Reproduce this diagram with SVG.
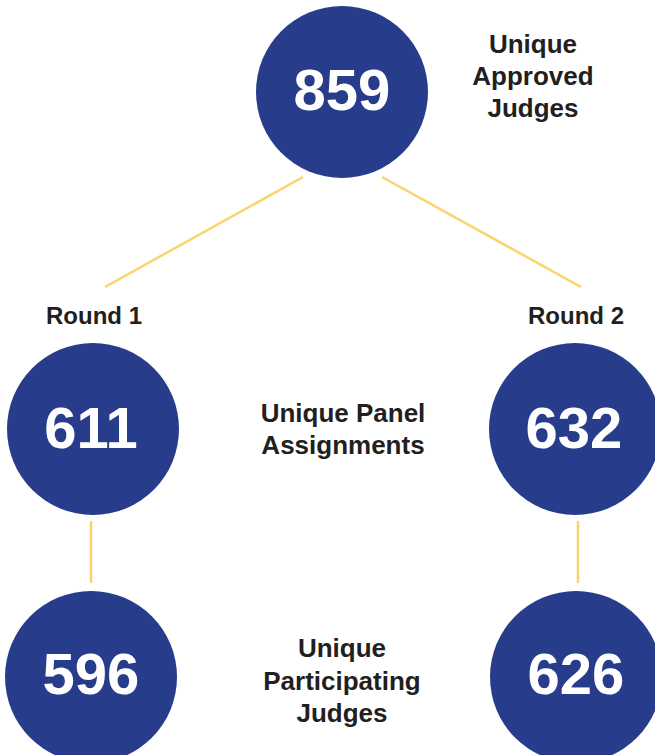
<svg xmlns="http://www.w3.org/2000/svg" width="655" height="755" viewBox="0 0 655 755">
<style>
.c{fill:#273c8b}
.n{font-family:"Liberation Sans",Arial,sans-serif;font-weight:bold;font-size:58px;fill:#ffffff;text-anchor:middle}
.t{font-family:"Liberation Sans",Arial,sans-serif;font-weight:bold;font-size:26px;fill:#231f20;text-anchor:middle}
.r{font-size:24px}
.l{stroke:#fbd26e;stroke-width:2.5;fill:none}
</style>
<rect width="655" height="755" fill="#ffffff"/>
<g id="connectors">
<line class="l" x1="303" y1="177" x2="105" y2="287"/>
<line class="l" x1="382" y1="177" x2="581" y2="287"/>
<line class="l" x1="91" y1="521" x2="91" y2="583"/>
<line class="l" x1="578" y1="521" x2="578" y2="583"/>
</g>
<g id="node-859">
<circle class="c" cx="342" cy="92" r="86"/>
<text class="n" x="342" y="110">859</text>
</g>
<g id="label-approved">
<text class="t" x="533" y="53">Unique</text>
<text class="t" x="533" y="85">Approved</text>
<text class="t" x="533" y="117">Judges</text>
</g>
<g id="label-round1"><text class="t r" x="94" y="324">Round 1</text></g>
<g id="label-round2"><text class="t r" x="576" y="324">Round 2</text></g>
<g id="node-611">
<circle class="c" cx="93" cy="429" r="86"/>
<text class="n" x="91" y="448">611</text>
</g>
<g id="node-632">
<circle class="c" cx="575" cy="429" r="86"/>
<text class="n" x="574" y="448">632</text>
</g>
<g id="label-panel">
<text class="t" x="343" y="422">Unique Panel</text>
<text class="t" x="343" y="454">Assignments</text>
</g>
<g id="node-596">
<circle class="c" cx="91" cy="677" r="86"/>
<text class="n" x="91" y="694">596</text>
</g>
<g id="node-626">
<circle class="c" cx="576" cy="677" r="86"/>
<text class="n" x="576" y="694">626</text>
</g>
<g id="label-participating">
<text class="t" x="342" y="657">Unique</text>
<text class="t" x="342" y="690">Participating</text>
<text class="t" x="342" y="722">Judges</text>
</g>
</svg>
